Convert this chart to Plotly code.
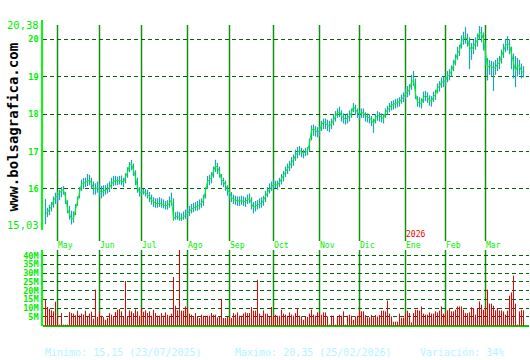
import pandas as pd
import plotly.graph_objects as go

W, H = 530, 360

# ---------------- data ----------------
holidays = ["2025-05-01", "2026-01-01", "2026-01-06"]
start_date, end_date = "2025-04-23", "2026-03-27"

close = [
    15.33, 15.38, 15.46, 15.53, 15.69, 15.78, 15.82, 15.88, 15.96, 15.97,
    15.78, 15.46, 15.33, 15.2, 15.22, 15.46, 15.69, 15.91, 16.13, 16.15,
    16.18, 16.22, 16.24, 16.15, 16.03, 16.0, 16.04, 15.97, 15.91, 15.94,
    15.97, 16.0, 16.04, 16.13, 16.2, 16.22, 16.22, 16.22, 16.22, 16.18,
    16.31, 16.45, 16.63, 16.67, 16.49, 16.31, 16.04, 15.91, 15.91, 15.93,
    15.9, 15.85, 15.8, 15.7, 15.65, 15.62, 15.6, 15.63, 15.6, 15.57,
    15.55, 15.56, 15.62, 15.72, 15.22, 15.25, 15.27, 15.23, 15.2, 15.25,
    15.3, 15.33, 15.4, 15.46, 15.5, 15.52, 15.53, 15.58, 15.62, 15.7,
    15.95, 16.2, 16.25, 16.3, 16.48, 16.62, 16.58, 16.45, 16.25, 16.2,
    16.1, 15.97, 15.9, 15.78, 15.72, 15.7, 15.68, 15.69, 15.69, 15.67,
    15.66, 15.72, 15.74, 15.64, 15.5, 15.55, 15.58, 15.6, 15.62, 15.7,
    15.8, 15.92, 16.0, 16.05, 16.12, 16.12, 16.1, 16.18, 16.28, 16.36,
    16.47, 16.55, 16.62, 16.7, 16.78, 16.9, 16.98, 17.04, 16.98, 16.96,
    17.0, 17.02, 17.22, 17.58, 17.6, 17.55, 17.52, 17.55, 17.72, 17.78,
    17.76, 17.7, 17.68, 17.74, 17.85, 17.95, 18.04, 18.06, 17.95, 17.9,
    17.86, 17.9, 17.95, 18.04, 18.2, 18.12, 18.05, 17.99, 18.03, 18.04,
    17.94, 17.92, 17.9, 17.84, 17.75, 17.9, 17.96, 17.95, 17.92, 17.88,
    18.05, 18.1, 18.17, 18.24, 18.26, 18.28, 18.3, 18.33, 18.4, 18.45,
    18.53, 18.6, 18.66, 18.85, 18.92, 18.55, 18.32, 18.3, 18.28, 18.45,
    18.5, 18.44, 18.36, 18.35, 18.46, 18.52, 18.7, 18.75, 18.85, 18.87,
    18.9, 19.02, 19.05, 19.15, 19.3, 19.45, 19.62, 19.7, 19.95, 20.02,
    20.05, 19.99, 19.8, 19.72, 19.83, 19.9, 19.98, 20.18, 20.15, 20.0,
    19.62, 19.25, 19.3, 19.28, 19.22, 19.25, 19.34, 19.38, 19.55, 19.7,
    19.83, 19.88, 19.85, 19.6, 19.38, 19.15, 19.3, 19.28, 19.15, 19.1,
]

high = [
    15.73, 15.5, 15.58, 15.65, 15.8, 15.9, 15.92, 15.98, 16.05, 16.08,
    15.92, 15.7, 15.55, 15.42, 15.4, 15.6, 15.8, 16.05, 16.25, 16.3,
    16.3, 16.4, 16.38, 16.3, 16.2, 16.15, 16.2, 16.15, 16.08, 16.1,
    16.1, 16.15, 16.2, 16.3, 16.35, 16.35, 16.33, 16.35, 16.36, 16.3,
    16.42, 16.58, 16.72, 16.78, 16.68, 16.5, 16.3, 16.05, 16.02, 16.0,
    16.0, 15.98, 15.92, 15.85, 15.78, 15.75, 15.75, 15.78, 15.75, 15.72,
    15.68, 15.7, 15.8, 15.9, 15.75, 15.38, 15.4, 15.38, 15.35, 15.4,
    15.45, 15.5, 15.55, 15.6, 15.63, 15.65, 15.68, 15.72, 15.75, 15.85,
    16.05, 16.35, 16.38, 16.45, 16.6, 16.78, 16.7, 16.6, 16.4, 16.3,
    16.22, 16.1, 16.0, 15.92, 15.85, 15.82, 15.8, 15.8, 15.82, 15.8,
    15.78, 15.85, 15.88, 15.78, 15.65, 15.68, 15.7, 15.75, 15.78, 15.82,
    15.95, 16.05, 16.15, 16.2, 16.25, 16.22, 16.22, 16.3, 16.4, 16.48,
    16.6, 16.68, 16.75, 16.85, 16.92, 17.05, 17.12, 17.15, 17.1, 17.05,
    17.1, 17.12, 17.35, 17.7, 17.72, 17.68, 17.65, 17.68, 17.82, 17.88,
    17.88, 17.85, 17.82, 17.88, 18.0, 18.08, 18.15, 18.2, 18.1, 18.02,
    17.98, 18.02, 18.1, 18.15, 18.3, 18.25, 18.15, 18.1, 18.15, 18.15,
    18.05, 18.02, 18.0, 17.95, 17.88, 18.0, 18.08, 18.05, 18.02, 18.0,
    18.15, 18.22, 18.3, 18.35, 18.37, 18.4, 18.42, 18.45, 18.52, 18.58,
    18.68, 18.75, 18.8, 19.05, 19.15, 18.95, 18.48, 18.45, 18.42, 18.6,
    18.62, 18.58, 18.5, 18.48, 18.6, 18.65, 18.82, 18.88, 18.98, 19.0,
    19.02, 19.15, 19.2, 19.3, 19.45, 19.6, 19.8, 19.85, 20.1, 20.2,
    20.32, 20.15, 20.05, 19.9, 19.98, 20.05, 20.15, 20.35, 20.33, 20.18,
    19.9, 19.5, 19.45, 19.42, 19.4, 19.45, 19.5, 19.55, 19.72, 19.88,
    20.0, 20.08, 20.0, 19.8, 19.62, 19.55, 19.5, 19.45, 19.35, 19.28,
]

low = [
    15.06, 15.25, 15.3, 15.4, 15.5, 15.6, 15.62, 15.7, 15.78, 15.85,
    15.6, 15.35, 15.18, 15.05, 15.1, 15.3, 15.55, 15.75, 15.95, 16.0,
    16.05, 16.08, 16.1, 16.0, 15.85, 15.85, 15.9, 15.78, 15.75, 15.8,
    15.85, 15.88, 15.92, 16.0, 16.08, 16.1, 16.1, 16.12, 16.1, 16.05,
    16.15, 16.3, 16.45, 16.5, 16.35, 16.1, 15.9, 15.8, 15.82, 15.85,
    15.8, 15.75, 15.65, 15.58, 15.52, 15.5, 15.5, 15.52, 15.5, 15.48,
    15.45, 15.45, 15.5, 15.55, 15.15, 15.18, 15.18, 15.15, 15.15, 15.18,
    15.2, 15.22, 15.28, 15.35, 15.38, 15.42, 15.42, 15.45, 15.5, 15.55,
    15.75, 16.0, 16.1, 16.15, 16.3, 16.45, 16.4, 16.3, 16.1, 16.05,
    15.95, 15.82, 15.72, 15.65, 15.6, 15.58, 15.55, 15.55, 15.58, 15.55,
    15.52, 15.6, 15.62, 15.45, 15.35, 15.4, 15.45, 15.48, 15.5, 15.55,
    15.65, 15.78, 15.88, 15.95, 16.0, 16.02, 15.98, 16.05, 16.12, 16.2,
    16.32, 16.4, 16.48, 16.55, 16.62, 16.75, 16.82, 16.9, 16.85, 16.82,
    16.88, 16.9, 17.0, 17.3, 17.42, 17.4, 17.38, 17.4, 17.55, 17.6,
    17.6, 17.55, 17.52, 17.6, 17.7, 17.8, 17.9, 17.92, 17.8, 17.75,
    17.72, 17.75, 17.8, 17.9, 18.05, 17.98, 17.9, 17.85, 17.9, 17.9,
    17.8, 17.78, 17.75, 17.68, 17.5, 17.75, 17.82, 17.8, 17.78, 17.75,
    17.9, 17.98, 18.05, 18.1, 18.12, 18.15, 18.18, 18.2, 18.28, 18.32,
    18.4, 18.45, 18.5, 18.65, 18.75, 18.4, 18.2, 18.18, 18.15, 18.3,
    18.35, 18.3, 18.22, 18.2, 18.32, 18.38, 18.55, 18.6, 18.7, 18.72,
    18.75, 18.85, 18.9, 19.0, 19.15, 19.3, 19.45, 19.55, 19.75, 19.85,
    19.88, 19.8, 19.2, 19.45, 19.6, 19.72, 19.8, 19.98, 19.92, 19.7,
    19.3, 18.9, 19.05, 19.0, 18.62, 19.05, 19.15, 19.2, 19.35, 19.5,
    19.65, 19.7, 19.6, 19.2, 18.95, 18.72, 19.0, 19.05, 18.95, 18.98,
]

volume_m = [
    14.9, 10.7, 9.7, 8.8, 8.2, 13.7, 5.0, 0.6, 7.2, 0.6,
    0.6, 0.6, 7.8, 7.2, 6.9, 5.9, 8.6, 5.9, 6.9, 6.3,
    8.6, 5.0, 6.9, 8.0, 4.0, 20.6, 5.0, 8.0, 5.7, 5.0,
    3.4, 4.4, 7.2, 6.3, 5.3, 7.8, 9.1, 9.5, 8.2, 5.0,
    25.5, 5.3, 8.8, 8.2, 7.2, 9.3, 8.2, 5.7, 9.9, 8.0,
    8.8, 7.2, 8.2, 5.7, 9.1, 7.2, 5.7, 5.7, 7.2, 5.7,
    7.6, 6.3, 5.7, 6.9, 27.8, 11.4, 8.8, 44.0, 8.6, 8.6,
    11.0, 10.7, 6.9, 6.3, 5.3, 7.2, 5.0, 4.4, 6.3, 5.7,
    5.7, 5.7, 5.7, 7.2, 6.3, 6.3, 4.8, 5.3, 15.4, 4.4,
    4.4, 5.3, 5.0, 4.4, 7.2, 6.3, 7.6, 5.7, 5.7, 6.9,
    7.6, 7.2, 7.2, 10.7, 8.6, 8.6, 26.3, 6.9, 5.7, 8.8,
    6.9, 6.9, 5.3, 10.7, 5.7, 6.3, 5.7, 5.7, 9.1, 6.9,
    6.3, 5.7, 7.6, 6.3, 5.7, 7.2, 10.1, 5.7, 5.3, 3.4,
    5.0, 5.0, 6.9, 9.1, 6.3, 5.7, 7.6, 7.6, 6.3, 7.6,
    7.6, 5.3, 0.6, 5.7, 5.7, 0.6, 5.0, 6.3, 5.7, 8.2,
    0.6, 5.7, 6.3, 5.7, 3.4, 5.3, 5.7, 8.8, 8.2, 8.2,
    6.1, 4.8, 4.8, 6.1, 4.8, 6.1, 5.3, 6.1, 8.6, 8.6,
    8.2, 14.3, 6.9, 5.3, 2.3, 2.3, 2.3, 6.9, 4.6, 4.6,
    6.9, 8.6, 7.2, 1.9, 7.2, 9.1, 9.1, 8.6, 11.0, 6.9,
    6.3, 6.3, 7.6, 6.9, 6.9, 8.2, 7.6, 8.6, 11.0, 6.9,
    6.9, 8.8, 10.1, 8.2, 8.2, 9.1, 11.0, 11.0, 11.0, 9.1,
    7.2, 7.2, 7.6, 10.5, 10.1, 6.3, 9.7, 13.9, 12.0, 9.1,
    10.1, 20.6, 12.6, 12.6, 11.4, 8.8, 10.1, 8.8, 8.8, 8.2,
    6.3, 8.6, 17.1, 19.0, 28.6, 12.6, 0.6, 8.2, 9.1, 8.8,
]

month_labels = ["May", "Jun", "Jul", "Ago", "Sep", "Oct", "Nov", "Dic", "Ene", "Feb", "Mar"]
year_label = "2026"
price_ticks = [16, 17, 18, 19, 20]
price_tick_text = ["16", "17", "18", "19", "20"]
price_min_label, price_max_label = 15.03, 20.38
vol_ticks = [5, 10, 15, 20, 25, 30, 35, 40]
vol_tick_text = ["5M", "10M", "15M", "20M", "25M", "30M", "35M", "40M"]
footer = ["Minimo: 15,15 (23/07/2025)", "Maximo: 20,35 (25/02/2026)", "Variación: 34%"]
site = "www.bolsagrafica.com"

# ---------------- calendar ----------------
days = pd.bdate_range(start_date, end_date)
days = days[~days.isin(pd.to_datetime(holidays))]
idx = list(range(len(days)))
periods = days.to_period("M")
month_starts = []
for p in periods.unique():
    if p.month == 4:
        continue
    month_starts.append(int((periods == p).argmax()))
ene_pos = month_starts[month_labels.index("Ene")]

# ---------------- geometry helpers ----------------
def px(x):
    return x / W

def py(y):
    return 1 - y / H

MONO = "DejaVu Sans Mono"
LIME = "#00ee00"
GRID = "#006400"
MONTH = "#109010"

# high-low segments and volume segments
seg_x, seg_y = [], []
for i, h, l in zip(idx, high, low):
    seg_x += [i, i, None]
    seg_y += [l, h, None]
vol_x, vol_y = [], []
for i, v in zip(idx, volume_m):
    vol_x += [i, i, None]
    vol_y += [0, v, None]

fig = go.Figure()
fig.add_trace(go.Scatter(x=seg_x, y=seg_y, mode="lines",
                         line=dict(color="#1ea3b6", width=1.2),
                         xaxis="x", yaxis="y"))
fig.add_trace(go.Scatter(x=idx, y=close, mode="lines",
                         line=dict(color="#00ff00", width=1.0),
                         xaxis="x", yaxis="y"))
fig.add_trace(go.Scatter(x=vol_x, y=vol_y, mode="lines",
                         line=dict(color="#ee0000", width=1.0),
                         xaxis="x", yaxis="y2"))

shapes = []
for m in month_starts:
    shapes.append(dict(type="line", xref="x", yref="paper", x0=m, x1=m,
                       y0=py(241), y1=py(25), line=dict(color=MONTH, width=1.5),
                       layer="below"))
    shapes.append(dict(type="line", xref="x", yref="paper", x0=m, x1=m,
                       y0=py(326), y1=py(250), line=dict(color=MONTH, width=1.5),
                       layer="below"))

annotations = []
for m, lab in zip(month_starts, month_labels):
    annotations.append(dict(x=m, xref="x", y=py(245), yref="paper", text=lab,
                            xanchor="left", yanchor="middle", showarrow=False,
                            xshift=-1, borderpad=0,
                            font=dict(family=MONO, size=8, color=LIME)))
annotations.append(dict(x=ene_pos, xref="x", y=py(234.5), yref="paper", text=year_label,
                        xanchor="left", yanchor="middle", showarrow=False, xshift=-1,
                        borderpad=0,
                        font=dict(family=MONO, size=8, color="#ee0000")))
for v in (price_min_label, price_max_label):
    annotations.append(dict(x=px(40), xref="paper", y=v, yref="y",
                            text=f"{v:.2f}".replace(".", ","), xanchor="right",
                            yanchor="middle", showarrow=False, borderpad=0,
                            font=dict(family=MONO, size=10.5, color=LIME)))
for xpos, txt in zip([45, 235, 420], footer):
    annotations.append(dict(x=px(xpos), xref="paper", y=py(352), yref="paper", text=txt,
                            xanchor="left", yanchor="middle", showarrow=False, xshift=-1,
                            borderpad=0,
                            font=dict(family=MONO, size=10, color="#b4f4ff")))
annotations.append(dict(x=px(12.5), xref="paper", y=py(127), yref="paper", text=site,
                        textangle=-90, showarrow=False, xanchor="center", yanchor="middle",
                        font=dict(family=MONO, size=14, color="#000000", weight="bold")))

fig.update_layout(
    width=W, height=H, template="none",
    margin=dict(l=0, r=0, t=0, b=0, pad=0),
    paper_bgcolor="white", plot_bgcolor="white",
    showlegend=False, hovermode=False,
    xaxis=dict(domain=[px(43), px(529)], range=[-1.25, 241.75], visible=False,
               anchor="y", fixedrange=True),
    yaxis=dict(domain=[py(230), py(20)], range=[14.9045, 20.513],
               tickvals=price_ticks, ticktext=price_tick_text, ticks="",
               tickfont=dict(family=MONO, size=8.5, color=LIME, weight="bold"),
               showgrid=True, gridcolor=GRID, gridwidth=1.2, griddash="4px,3px",
               zeroline=False, showline=True, linecolor="#00ff00", linewidth=1.5,
               anchor="x", automargin=False, ticklabelstandoff=1),
    yaxis2=dict(domain=[py(326), py(250)], range=[-0.17, 43.26],
                tickvals=vol_ticks, ticktext=vol_tick_text, ticks="",
                tickfont=dict(family=MONO, size=8.5, color=LIME, weight="bold"),
                showgrid=True, gridcolor=GRID, gridwidth=1.2, griddash="4px,3px",
                zeroline=True, zerolinecolor="#00cc00", zerolinewidth=2,
                showline=True, linecolor="#00ff00", linewidth=1.5,
                anchor="x", automargin=False, ticklabelstandoff=1),
    shapes=shapes, annotations=annotations,
)

fig.write_html("out.html")
